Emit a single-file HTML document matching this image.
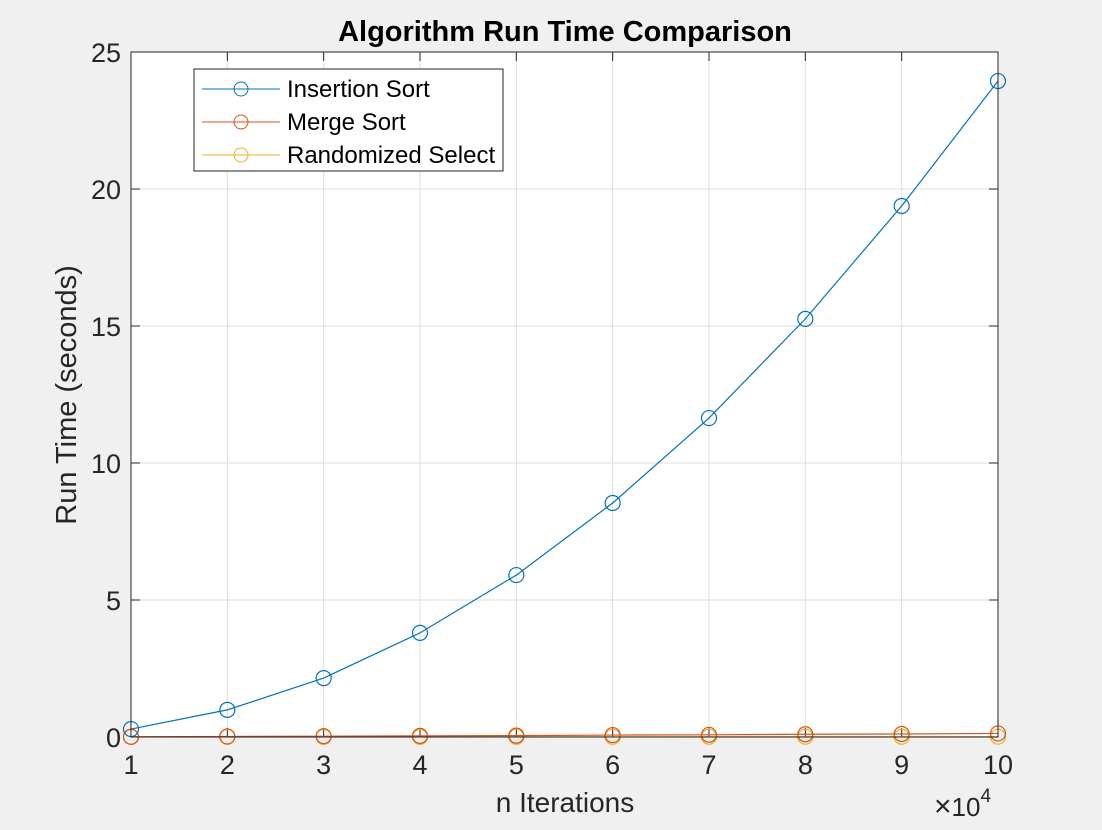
<!DOCTYPE html>
<html><head><meta charset="utf-8"><style>
html,body{margin:0;padding:0;background:#f0f0f0;}
svg{display:block;font-family:"Liberation Sans",Arial,sans-serif;}
</style></head><body>
<svg width="1102" height="830" viewBox="0 0 1102 830">
<rect x="0" y="0" width="1102" height="830" fill="#f0f0f0"/>
<rect x="131" y="52" width="867" height="685" fill="#fff"/>
<g id="grid"></g>
<g id="ticks"></g>
<g id="series"></g>
<rect x="131" y="52" width="867" height="685" fill="none" stroke="#262626" stroke-width="1"/>
<text x="565" y="41" text-anchor="middle" font-size="29" font-weight="bold" fill="#000">Algorithm Run Time Comparison</text>
<text x="565" y="812" text-anchor="middle" font-size="28" fill="#262626">n Iterations</text>
<text transform="translate(76,395) rotate(-90)" text-anchor="middle" font-size="29" fill="#262626">Run Time (seconds)</text>
<text x="934" y="816" font-size="26" fill="#262626"><tspan font-size="30">×</tspan>10<tspan font-size="19" dy="-14">4</tspan></text>
<g>
<rect x="194" y="69" width="309" height="102" fill="#fff" stroke="#262626" stroke-width="1"/>
<g>
<line x1="202" y1="89" x2="280" y2="89" stroke="#0072bd"/><circle cx="241" cy="89" r="7" fill="none" stroke="#0072bd"/>
<text x="287" y="97" font-size="24" fill="#000">Insertion Sort</text></g>
<g>
<line x1="202" y1="122" x2="280" y2="122" stroke="#d95319"/><circle cx="241" cy="122" r="7" fill="none" stroke="#d95319"/>
<text x="287" y="130" font-size="24" fill="#000">Merge Sort</text></g>
<g>
<line x1="202" y1="155" x2="280" y2="155" stroke="#edb120"/><circle cx="241" cy="155" r="7" fill="none" stroke="#edb120"/>
<text x="287" y="163" font-size="24" fill="#000">Randomized Select</text></g>
</g>
</svg>
<script>
const categories = [1,2,3,4,5,6,7,8,9,10];
const insertionSort = [0.29,0.99,2.15,3.8,5.91,8.54,11.64,15.26,19.38,23.94];
const mergeSort = [0.01,0.02,0.03,0.04,0.05,0.07,0.08,0.1,0.11,0.13];
const randomizedSelect = [0.002,0.003,0.004,0.005,0.006,0.007,0.008,0.009,0.01,0.011];
const xTicks = [1,2,3,4,5,6,7,8,9,10];
const yTicks = [0,5,10,15,20,25];
const NS='http://www.w3.org/2000/svg';
const X0=131,X1=998,Y0=737,Y1=52;
function xs(v){return X0+(v-1)/9*(X1-X0);}
function ys(v){return Y0-v/25*(Y0-Y1);}
function mk(t,a,p){const e=document.createElementNS(NS,t);for(const k in a)e.setAttribute(k,a[k]);p.appendChild(e);return e;}
const grid=document.getElementById('grid'),ticks=document.getElementById('ticks'),ser=document.getElementById('series');
xTicks.forEach(v=>{const x=xs(v);
 const g=mk('line',{x1:x,x2:x,y1:Y1,y2:Y0,stroke:'#dfdfdf'},grid);
 
 
 mk('line',{x1:x,x2:x,y1:Y0,y2:Y0-9,stroke:'#262626'},ticks);
 mk('line',{x1:x,x2:x,y1:Y1,y2:Y1+9,stroke:'#262626'},ticks);
 const t=mk('text',{x:x,y:Y0+37,'text-anchor':'middle','font-size':27,fill:'#262626'},ticks);t.textContent=v;
 
 
});
yTicks.forEach(v=>{const y=ys(v);
 const g=mk('line',{x1:X0,x2:X1,y1:y,y2:y,stroke:'#dfdfdf'},grid);
 
 
 mk('line',{x1:X0,x2:X0+9,y1:y,y2:y,stroke:'#262626'},ticks);
 mk('line',{x1:X1,x2:X1-9,y1:y,y2:y,stroke:'#262626'},ticks);
 const t=mk('text',{x:X0-10,y:y+10,'text-anchor':'end','font-size':27,fill:'#262626'},ticks);t.textContent=v;
 
 
});
function draw(vals,color,name){
 const g=mk('g',{},ser);
 
 
 const pts=vals.map((v,i)=>xs(categories[i])+','+ys(v)).join(' ');
 mk('polyline',{points:pts,fill:'none',stroke:color,'stroke-width':1.2},g);
 vals.forEach((v,i)=>{const c=mk('circle',{cx:xs(categories[i]),cy:ys(v),r:7.5,fill:'none',stroke:color,'stroke-width':1.2},g);
  
  });
}
draw(randomizedSelect,'#edb120','randomized-select-series');
draw(mergeSort,'#d95319','merge-sort-series');
draw(insertionSort,'#0072bd','insertion-sort-series');
</script>
</body></html>
